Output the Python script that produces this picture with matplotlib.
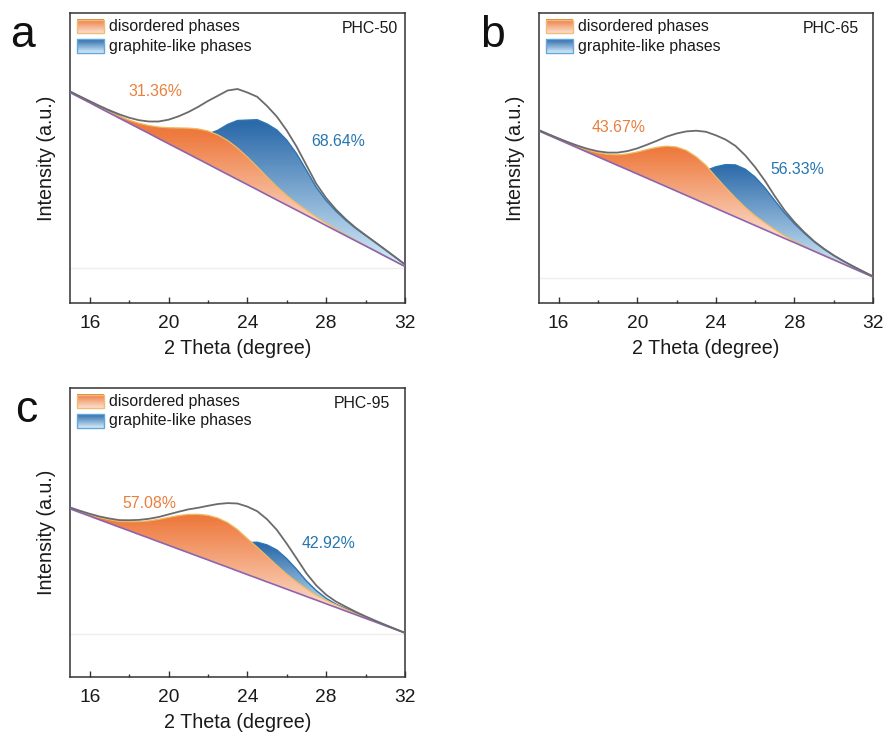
import numpy as np
import matplotlib
matplotlib.use('Agg')
import matplotlib.pyplot as plt
from matplotlib.colors import LinearSegmentedColormap
from matplotlib.patches import Polygon, Rectangle

plt.rcParams['font.family'] = ['Liberation Sans', 'DejaVu Sans']

# ---------------- data ----------------
theta = [15.0, 15.5, 16.0, 16.5, 17.0, 17.5, 18.0, 18.5, 19.0, 19.5,
         20.0, 20.5, 21.0, 21.5, 22.0, 22.5, 23.0, 23.5, 24.0, 24.5,
         25.0, 25.5, 26.0, 26.5, 27.0, 27.5, 28.0, 28.5, 29.0, 29.5,
         30.0, 30.5, 31.0, 31.5, 32.0]

samples = ['PHC-50', 'PHC-65', 'PHC-95']
panel_letters = ['a', 'b', 'c']
legend_labels = ['disordered phases', 'graphite-like phases']
disordered_pct = ['31.36%', '43.67%', '57.08%']
graphite_pct = ['68.64%', '56.33%', '42.92%']
x_ticks = [16, 20, 24, 28, 32]
x_minor_ticks = [18, 22, 26, 30]
x_label = '2 Theta (degree)'
y_label = 'Intensity (a.u.)'

# linear background (intensity, a.u.)
baseline_a = [210.5, 205.4, 200.3, 195.1, 190.0, 184.9, 179.8, 174.7, 169.6, 164.4,
              159.3, 154.2, 149.1, 144.0, 138.9, 133.7, 128.6, 123.5, 118.4, 113.3,
              108.1, 103.0, 97.9, 92.8, 87.7, 82.6, 77.4, 72.3, 67.2, 62.1,
              57.0, 51.9, 46.7, 41.6, 36.5]
baseline_b = [172.0, 167.7, 163.4, 159.1, 154.8, 150.5, 146.2, 141.9, 137.6, 133.4,
              129.1, 124.8, 120.5, 116.2, 111.9, 107.6, 103.3, 99.0, 94.7, 90.4,
              86.1, 81.8, 77.5, 73.2, 68.9, 64.6, 60.4, 56.1, 51.8, 47.5,
              43.2, 38.9, 34.6, 30.3, 26.0]
baseline_c = [168.2, 164.5, 160.9, 157.2, 153.6, 149.9, 146.3, 142.6, 139.0, 135.3,
              131.7, 128.0, 124.4, 120.7, 117.1, 113.4, 109.8, 106.1, 102.4, 98.8,
              95.1, 91.5, 87.8, 84.2, 80.5, 76.9, 73.2, 69.6, 65.9, 62.3,
              58.6, 55.0, 51.3, 47.7, 44.0]

# fitted peak heights above the background (a.u.)
disordered_a = [0.1, 0.15, 0.3, 0.5, 1.0, 1.8, 3.1, 5.1, 7.9, 11.6,
                16.0, 20.9, 25.8, 30.1, 33.1, 34.5, 33.9, 31.5, 27.6, 22.9,
                17.9, 13.3, 9.6, 7.0, 5.0, 3.5, 2.5, 1.6, 1.0, 0.6,
                0.4, 0.25, 0.15, 0.1, 0.05]
graphite_a = [1.0, 1.1, 1.3, 1.5, 1.7, 2.0, 2.4, 3.0, 4.0, 5.5,
              8.0, 11.5, 16.0, 22.0, 30.0, 39.0, 50.0, 59.0, 64.5, 70.0,
              71.0, 70.0, 65.0, 56.5, 45.0, 33.0, 25.0, 19.5, 15.5, 12.5,
              10.5, 8.5, 6.5, 4.3, 2.0]

disordered_b = [0.05, 0.12, 0.27, 0.58, 1.2, 2.2, 4.0, 6.7, 10.6, 15.7,
                21.9, 28.7, 35.2, 40.7, 44.1, 45.0, 43.0, 38.7, 31.5, 25.0,
                19.0, 13.8, 9.8, 7.0, 4.5, 2.6, 1.5, 0.9, 0.5, 0.3,
                0.2, 0.1, 0.1, 0.05, 0.05]
graphite_b = [0.8, 0.8, 0.9, 1.0, 1.1, 1.3, 1.5, 1.8, 2.2, 2.8,
              3.6, 4.8, 6.5, 9.5, 13.5, 19.0, 26.0, 33.5, 41.5, 48.0,
              52.0, 52.0, 48.5, 42.0, 33.5, 25.5, 19.0, 13.8, 9.5, 6.5,
              4.3, 2.9, 1.9, 1.2, 0.6]

disordered_c = [0.4, 0.75, 1.3, 2.2, 3.7, 5.7, 9.0, 12.8, 17.2, 22.3,
                27.9, 33.4, 38.2, 42.0, 44.6, 45.6, 44.6, 41.4, 36.0, 31.0,
                25.6, 20.0, 15.0, 10.9, 7.6, 5.1, 3.5, 2.6, 1.8, 1.1,
                0.7, 0.4, 0.25, 0.15, 0.1]
graphite_c = [1.0, 1.0, 1.0, 1.1, 1.2, 1.3, 1.5, 1.7, 2.0, 2.4,
              3.0, 3.8, 5.0, 6.5, 9.5, 14.0, 19.5, 26.0, 32.0, 36.0,
              37.0, 35.5, 30.5, 23.5, 15.5, 9.5, 5.5, 3.2, 2.5, 1.8,
              1.3, 0.9, 0.6, 0.3, 0.1]

zero_level = [34.5, 25.0, 43.5]

baselines = [baseline_a, baseline_b, baseline_c]
disordered = [disordered_a, disordered_b, disordered_c]
graphite = [graphite_a, graphite_b, graphite_c]

# ---------------- layout & style ----------------
W, H = 888, 735
axes_px = [(70, 13, 335, 290), (539, 13, 334, 290), (70, 388, 335, 289)]
ylims = [290, 290, 289]
letter_pos = [(10, 46.7), (480, 46.7), (14.7, 421.7)]
sample_x = [0.978, 0.958, 0.955]
pct_pos = [((19.35, 211), (28.62, 161)),
           ((19.06, 175), (28.15, 134)),
           ((19.02, 174), (28.14, 133))]

ORANGE_TOP, ORANGE_BOT = '#EE7A3E', '#FCE0D0'
BLUE_TOP, BLUE_BOT = '#2C6AAA', '#D6EDFA'
ORANGE_EDGE, BLUE_EDGE = '#F0BA62', '#2C74B4'
ENV_COLOR, BASE_COLOR = '#6B6B6B', '#8E64B0'
ORANGE_TXT, BLUE_TXT = '#E8803D', '#2576B0'
SPINE = '#333333'

cmap_orange = LinearSegmentedColormap.from_list('o', [ORANGE_BOT, ORANGE_TOP])
cmap_blue = LinearSegmentedColormap.from_list('b', [BLUE_BOT, BLUE_TOP])


def gradient_fill(ax, x, lower, height, cmap, z):
    upper = lower + height
    verts = list(zip(x, upper)) + list(zip(x[::-1], lower[::-1]))
    poly = Polygon(verts, closed=True, facecolor='none', edgecolor='none')
    ax.add_patch(poly)
    top = upper[np.argmax(height)]
    bot = lower[height >= 1.0].min()
    ylo, yhi = lower.min(), upper.max()
    ys = np.linspace(yhi, ylo, 400)
    vals = np.clip((ys - bot) / (top - bot), 0, 1).reshape(-1, 1)
    im = ax.imshow(vals, cmap=cmap, vmin=0, vmax=1, aspect='auto',
                   extent=[x[0], x[-1], ylo, yhi], origin='upper',
                   zorder=z, interpolation='bilinear')
    im.set_clip_path(poly)
    return upper


fig = plt.figure(figsize=(W / 100, H / 100), dpi=100)
x = np.array(theta)
grad = np.linspace(1, 0, 100).reshape(-1, 1)

for i in range(3):
    l, t, w, h = axes_px[i]
    ax = fig.add_axes([l / W, (H - t - h) / H, w / W, h / H])
    base = np.array(baselines[i])
    d = np.array(disordered[i])
    g = np.array(graphite[i])

    ax.axhline(zero_level[i], color='#EEEEEE', lw=1.0, zorder=1)
    up_g = gradient_fill(ax, x, base, g, cmap_blue, 2)
    ax.plot(x, up_g, color=BLUE_EDGE, lw=1.0, zorder=2.5, solid_joinstyle='round')
    up_d = gradient_fill(ax, x, base, d, cmap_orange, 3)
    ax.plot(x, up_d, color=ORANGE_EDGE, lw=0.9, zorder=3.5, solid_joinstyle='round')
    ax.plot(x, base, color=BASE_COLOR, lw=1.2, zorder=4)
    ax.plot(x, base + d + g, color=ENV_COLOR, lw=1.3, zorder=5, solid_joinstyle='round')

    # percentages
    (px1, py1), (px2, py2) = pct_pos[i]
    ax.text(px1, py1, disordered_pct[i], color=ORANGE_TXT, fontsize=11.4,
            ha='center', va='center', zorder=6)
    ax.text(px2, py2, graphite_pct[i], color=BLUE_TXT, fontsize=11.4,
            ha='center', va='center', zorder=6)

    # legend (gradient patches)
    for (y0, y1), cm, ec, lab, ty in [((0.931, 0.976), cmap_orange, '#EDBE78', legend_labels[0], 0.953),
                                     ((0.862, 0.910), cmap_blue, '#62A8DC', legend_labels[1], 0.886)]:
        ax.imshow(grad, cmap=cm, vmin=0, vmax=1, aspect='auto',
                  extent=[0.021, 0.101, y0, y1], transform=ax.transAxes,
                  zorder=7, interpolation='bilinear')
        ax.add_patch(Rectangle((0.021, y0), 0.080, y1 - y0, transform=ax.transAxes,
                               facecolor='none', edgecolor=ec, lw=1.0, zorder=8))
        ax.text(0.116, ty, lab, transform=ax.transAxes, fontsize=11.4,
                ha='left', va='center', color='#1A1A1A', zorder=8)

    ax.text(sample_x[i], 0.947, samples[i], transform=ax.transAxes, fontsize=11.4,
            ha='right', va='center', color='#1A1A1A')

    ax.set_xlim(15, 32)
    ax.set_ylim(0, ylims[i])
    ax.set_xticks(x_ticks)
    ax.set_xticks(x_minor_ticks, minor=True)
    ax.set_yticks([])
    ax.tick_params(axis='x', which='major', direction='in', length=4, width=1.0,
                   labelsize=13.8, pad=8.5, colors=SPINE, labelcolor='#1A1A1A')
    ax.tick_params(axis='x', which='minor', direction='in', length=2.5, width=1.0,
                   colors=SPINE)
    for s in ax.spines.values():
        s.set_color(SPINE)
        s.set_linewidth(1.1)
    ax.set_xlabel(x_label, fontsize=14.2, labelpad=5, color='#1A1A1A')
    ax.set_ylabel(y_label, fontsize=14.2, labelpad=10, color='#1A1A1A')

    lx, ly = letter_pos[i]
    fig.text(lx / W, (H - ly) / H, panel_letters[i], fontsize=32,
             ha='left', va='baseline', color='#111111')

fig.savefig('out.png', dpi=100)
